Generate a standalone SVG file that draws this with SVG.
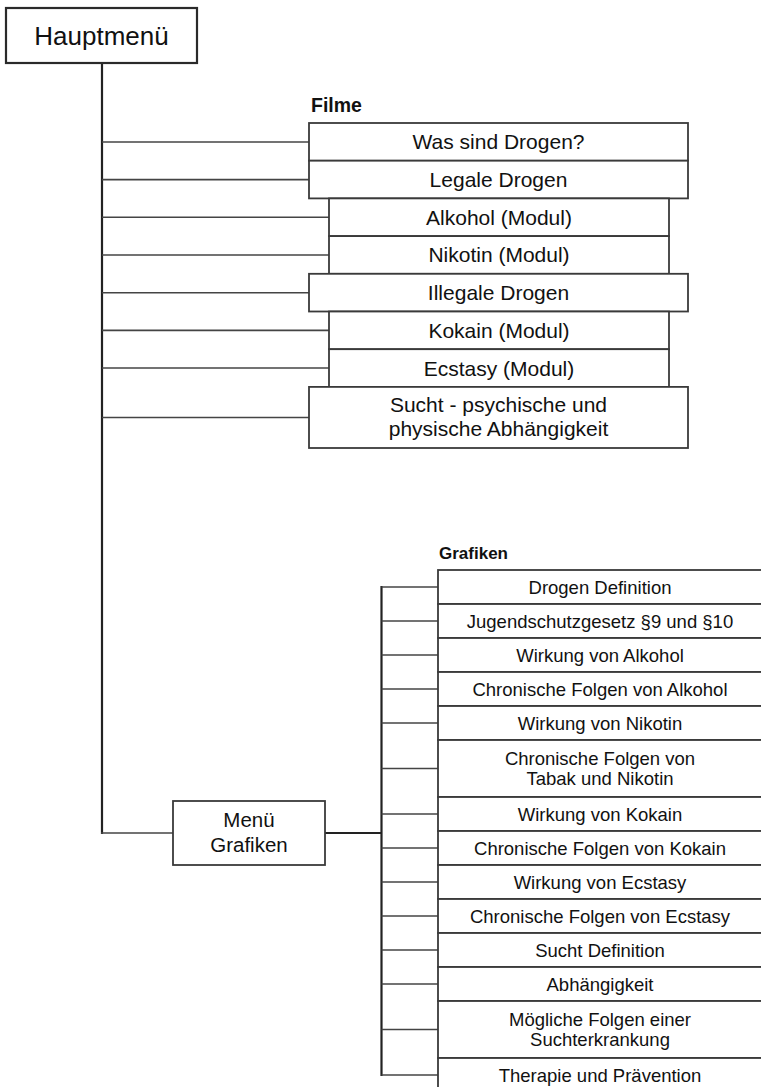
<svg xmlns="http://www.w3.org/2000/svg" width="761" height="1087" viewBox="0 0 761 1087">
<style>
.box{fill:#fff;stroke:#3a3a3a;stroke-width:1.8}
.main{fill:#fff;stroke:#2a2a2a;stroke-width:2.2}
.t{font-family:"Liberation Sans",Arial,sans-serif;fill:#111;text-anchor:middle}
.f{font-size:21px}
.g{font-size:18.5px}
.lbl{font-family:"Liberation Sans",Arial,sans-serif;font-weight:bold;fill:#111}
.c{stroke:#444;stroke-width:1.6;fill:none}
.ct{stroke:#222;stroke-width:2.2;fill:none}
</style>
<rect width="761" height="1087" fill="#fff"/>
<g id="connectors">
<line class="ct" x1="102" y1="63" x2="102" y2="834"/>
<line class="c" x1="102" y1="142" x2="309" y2="142"/>
<line class="c" x1="102" y1="179.6" x2="309" y2="179.6"/>
<line class="c" x1="102" y1="217.3" x2="329" y2="217.3"/>
<line class="c" x1="102" y1="255" x2="329" y2="255"/>
<line class="c" x1="102" y1="292.7" x2="309" y2="292.7"/>
<line class="c" x1="102" y1="330.4" x2="329" y2="330.4"/>
<line class="c" x1="102" y1="368" x2="329" y2="368"/>
<line class="c" x1="102" y1="417.5" x2="309" y2="417.5"/>
<line class="c" x1="101" y1="833" x2="173" y2="833"/>
<line class="ct" x1="325" y1="833" x2="381.5" y2="833" stroke-width="2.6"/>
<line class="ct" x1="381.5" y1="586" x2="381.5" y2="1076"/>
<line class="c" x1="381.5" y1="587" x2="438" y2="587"/>
<line class="c" x1="381.5" y1="621" x2="438" y2="621"/>
<line class="c" x1="381.5" y1="655" x2="438" y2="655"/>
<line class="c" x1="381.5" y1="689" x2="438" y2="689"/>
<line class="c" x1="381.5" y1="723" x2="438" y2="723"/>
<line class="c" x1="381.5" y1="768.5" x2="438" y2="768.5"/>
<line class="c" x1="381.5" y1="814" x2="438" y2="814"/>
<line class="c" x1="381.5" y1="848" x2="438" y2="848"/>
<line class="c" x1="381.5" y1="882" x2="438" y2="882"/>
<line class="c" x1="381.5" y1="916" x2="438" y2="916"/>
<line class="c" x1="381.5" y1="950" x2="438" y2="950"/>
<line class="c" x1="381.5" y1="984" x2="438" y2="984"/>
<line class="c" x1="381.5" y1="1029.5" x2="438" y2="1029.5"/>
<line class="c" x1="381.5" y1="1075" x2="438" y2="1075"/>
</g>
<g id="hauptmenu">
<rect class="main" x="6" y="8" width="191" height="55"/>
<text class="t" x="101.5" y="45" font-size="26">Hauptmenü</text>
</g>
<text class="lbl" x="311" y="111.5" font-size="19.5">Filme</text>
<g id="f1"><rect class="box" x="309" y="123" width="379" height="37.7"/><text class="t f" x="498.5" y="149.3">Was sind Drogen?</text></g>
<g id="f2"><rect class="box" x="309" y="160.7" width="379" height="37.7"/><text class="t f" x="498.5" y="187">Legale Drogen</text></g>
<g id="f3"><rect class="box" x="329" y="198.4" width="340" height="37.7"/><text class="t f" x="499" y="224.7">Alkohol (Modul)</text></g>
<g id="f4"><rect class="box" x="329" y="236.1" width="340" height="37.7"/><text class="t f" x="499" y="262.4">Nikotin (Modul)</text></g>
<g id="f5"><rect class="box" x="309" y="273.8" width="379" height="37.7"/><text class="t f" x="498.5" y="300.1">Illegale Drogen</text></g>
<g id="f6"><rect class="box" x="329" y="311.5" width="340" height="37.7"/><text class="t f" x="499" y="337.8">Kokain (Modul)</text></g>
<g id="f7"><rect class="box" x="329" y="349.2" width="340" height="37.7"/><text class="t f" x="499" y="375.5">Ecstasy (Modul)</text></g>
<g id="f8"><rect class="box" x="309" y="386.9" width="379" height="61.1"/><text class="t f" x="498.5" y="412.2">Sucht - psychische und</text><text class="t f" x="498.5" y="436.4">physische Abhängigkeit</text></g>
<g id="menu-grafiken">
<rect class="box" x="173" y="801" width="152" height="64"/>
<text class="t" x="249" y="827.3" font-size="20.5">Menü</text>
<text class="t" x="249" y="852.3" font-size="20.5">Grafiken</text>
</g>
<text class="lbl" x="439" y="559" font-size="17">Grafiken</text>
<g id="g1"><rect class="box" x="438" y="570" width="330" height="34"/><text class="t g" x="600" y="593.6">Drogen Definition</text></g>
<g id="g2"><rect class="box" x="438" y="604" width="330" height="34"/><text class="t g" x="600" y="627.6">Jugendschutzgesetz §9 und §10</text></g>
<g id="g3"><rect class="box" x="438" y="638" width="330" height="34"/><text class="t g" x="600" y="661.6">Wirkung von Alkohol</text></g>
<g id="g4"><rect class="box" x="438" y="672" width="330" height="34"/><text class="t g" x="600" y="695.6">Chronische Folgen von Alkohol</text></g>
<g id="g5"><rect class="box" x="438" y="706" width="330" height="34"/><text class="t g" x="600" y="729.6">Wirkung von Nikotin</text></g>
<g id="g6"><rect class="box" x="438" y="740" width="330" height="57"/><text class="t g" x="600" y="764.7">Chronische Folgen von</text><text class="t g" x="600" y="785">Tabak und Nikotin</text></g>
<g id="g7"><rect class="box" x="438" y="797" width="330" height="34"/><text class="t g" x="600" y="820.6">Wirkung von Kokain</text></g>
<g id="g8"><rect class="box" x="438" y="831" width="330" height="34"/><text class="t g" x="600" y="854.6">Chronische Folgen von Kokain</text></g>
<g id="g9"><rect class="box" x="438" y="865" width="330" height="34"/><text class="t g" x="600" y="888.6">Wirkung von Ecstasy</text></g>
<g id="g10"><rect class="box" x="438" y="899" width="330" height="34"/><text class="t g" x="600" y="922.6">Chronische Folgen von Ecstasy</text></g>
<g id="g11"><rect class="box" x="438" y="933" width="330" height="34"/><text class="t g" x="600" y="956.6">Sucht Definition</text></g>
<g id="g12"><rect class="box" x="438" y="967" width="330" height="34"/><text class="t g" x="600" y="990.6">Abhängigkeit</text></g>
<g id="g13"><rect class="box" x="438" y="1001" width="330" height="57"/><text class="t g" x="600" y="1025.7">Mögliche Folgen einer</text><text class="t g" x="600" y="1046">Suchterkrankung</text></g>
<g id="g14"><rect class="box" x="438" y="1058" width="330" height="34"/><text class="t g" x="600" y="1081.6">Therapie und Prävention</text></g>
</svg>
